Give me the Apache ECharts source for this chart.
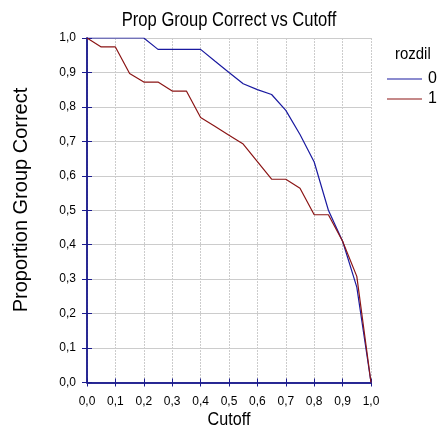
<!DOCTYPE html>
<html>
<head>
<meta charset="utf-8">
<script src="https://cdn.jsdelivr.net/npm/echarts@6/dist/echarts.min.js"></script>
<style>
  html, body { margin: 0; padding: 0; background: #fff; }
  #main { width: 438px; height: 430px; }
</style>
</head>
<body>
<div id="main"></div>
<script>
// cutoff values (x axis)
const cutoff = [0, 0.05, 0.1, 0.15, 0.2, 0.25, 0.3, 0.35, 0.4, 0.45, 0.5,
  0.55, 0.6, 0.65, 0.7, 0.75, 0.8, 0.85, 0.9, 0.95, 1.0]
// proportion group correct, rozdil = 0
const group0 = [1, 1, 1, 1, 1, 0.967, 0.967, 0.967, 0.967, 0.933, 0.9,
  0.867, 0.85, 0.836, 0.79, 0.72, 0.64, 0.5, 0.41, 0.277, 0]
// proportion group correct, rozdil = 1
const group1 = [1, 0.974, 0.974, 0.897, 0.872, 0.872, 0.846, 0.846, 0.769, 0.744, 0.718,
  0.692, 0.641, 0.59, 0.59, 0.564, 0.487, 0.487, 0.41, 0.308, 0]
const seriesNames = ['0', '1']
const legendTitle = 'rozdil'
const chartTitle = 'Prop Group Correct vs Cutoff'
const xName = 'Cutoff'
const yName = 'Proportion Group Correct'

const axisColor = '#1c1c8e'
const font = "'Liberation Sans', Arial, sans-serif"
const comma = (v) => v.toFixed(1).replace('.', ',')

const chart = echarts.init(document.getElementById('main'))
const option = {
  backgroundColor: '#ffffff',
  animation: false,
  graphic: [
    {
      // squeezed title like the original
      type: 'text',
      x: 229,
      y: 20,
      scaleX: 0.79,
      style: {
        text: chartTitle,
        font: '21px ' + font,
        fill: '#000',
        align: 'center',
        verticalAlign: 'middle',
      },
    },
    {
      type: 'text',
      x: 229,
      y: 420,
      scaleX: 0.85,
      style: {
        text: xName,
        font: '19px ' + font,
        fill: '#000',
        align: 'center',
        verticalAlign: 'middle',
      },
    },
    {
      type: 'text',
      x: 21,
      y: 200,
      rotation: Math.PI / 2,
      style: {
        text: yName,
        font: '20px ' + font,
        fill: '#000',
        align: 'center',
        verticalAlign: 'middle',
      },
    },
    {
      type: 'text',
      x: 395,
      y: 54,
      scaleX: 0.88,
      style: {
        text: legendTitle,
        font: '17px ' + font,
        fill: '#000',
        align: 'left',
        verticalAlign: 'middle',
      },
    },
  ],
  legend: {
    orient: 'vertical',
    left: 387,
    top: 71,
    padding: 0,
    itemWidth: 35,
    itemHeight: 1,
    itemGap: 4,
    icon: 'rect',
    textStyle: { fontFamily: font, fontSize: 16, color: '#000', padding: [0, 0, 0, 1], lineHeight: 16 },
    data: seriesNames,
  },
  grid: { left: 87, right: 67, top: 38, bottom: 47.5 },
  xAxis: [
    {
      type: 'value',
      min: 0,
      max: 1,
      interval: 0.1,
      axisLine: { show: true, lineStyle: { color: axisColor, width: 1.5 } },
      axisTick: { show: true, length: 4, lineStyle: { color: axisColor } },
      axisLabel: { formatter: comma, fontFamily: font, fontSize: 12, color: '#000', margin: 13 },
      splitLine: { show: true, lineStyle: { color: '#cccccc', type: [2, 1] } },
    },
    {
      type: 'value',
      position: 'top',
      min: 0,
      max: 1,
      interval: 0.1,
      axisLine: { show: true, lineStyle: { color: axisColor, width: 1.5 } },
      axisTick: { show: true, length: 4, lineStyle: { color: axisColor } },
      axisLabel: { show: false },
      splitLine: { show: false },
    },
  ],
  yAxis: [
    {
      type: 'value',
      min: 0,
      max: 1,
      interval: 0.1,
      axisLine: { show: true, lineStyle: { color: axisColor, width: 1.5 } },
      axisTick: { show: true, length: 5, lineStyle: { color: axisColor } },
      axisLabel: { formatter: comma, fontFamily: font, fontSize: 12, color: '#000', margin: 11 },
      splitLine: { show: true, lineStyle: { color: '#cccccc' } },
    },
    {
      type: 'value',
      position: 'right',
      min: 0,
      max: 1,
      interval: 0.1,
      axisLine: { show: true, lineStyle: { color: axisColor, width: 1.5 } },
      axisTick: { show: true, length: 5, lineStyle: { color: axisColor } },
      axisLabel: { show: false },
      splitLine: { show: false },
    },
  ],
  series: [
    {
      name: seriesNames[0],
      type: 'line',
      symbol: 'none',
      data: cutoff.map((c, i) => [c, group0[i]]),
      lineStyle: { color: '#1a1aa0', width: 1.2 },
      itemStyle: { color: '#1a1aa0' },
      z: 3,
    },
    {
      name: seriesNames[1],
      type: 'line',
      symbol: 'none',
      data: cutoff.map((c, i) => [c, group1[i]]),
      lineStyle: { color: '#8b1515', width: 1.2 },
      itemStyle: { color: '#8b1515' },
      z: 4,
    },
  ],
}
chart.setOption(option)
</script>
</body>
</html>
